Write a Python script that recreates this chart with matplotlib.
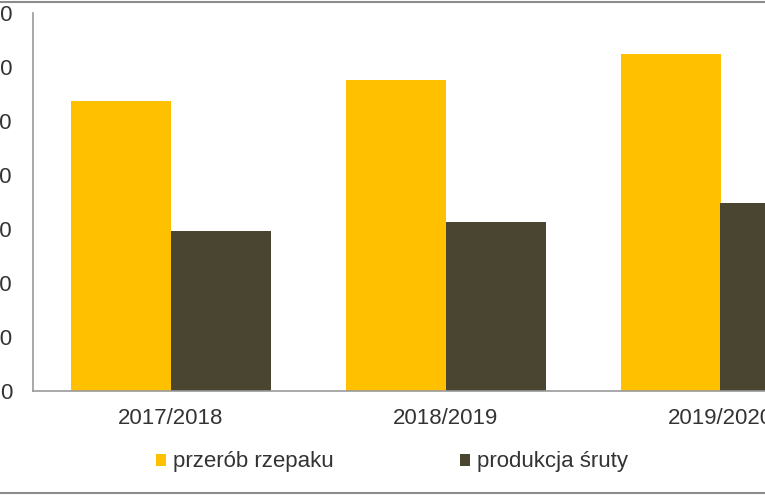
import matplotlib
matplotlib.use("Agg")
import matplotlib.pyplot as plt
from matplotlib.patches import Patch
from matplotlib.lines import Line2D
import numpy as np

categories = ["2017/2018", "2018/2019", "2019/2020"]
przerob = [2685, 2880, 3120]
sruta = [1480, 1565, 1740]
yticks = [0, 500, 1000, 1500, 2000, 2500, 3000, 3500]
series_names = ["przerób rzepaku", "produkcja śruty"]

YELLOW = "#FFC000"
DARK = "#4A4530"
TEXT = "#333333"
GREY = "#999999"

plt.rcParams['font.family'] = ['Liberation Sans', 'DejaVu Sans']

W, H = 765, 496
fig = plt.figure(figsize=(W / 100, H / 100), dpi=100)
ax = fig.add_axes([33 / W, (H - 391) / H, 825 / W, 378 / H])

x = np.arange(len(categories))
bw = 100 / 275
ax.bar(x - bw / 2, przerob, width=bw, color=YELLOW, label=series_names[0])
ax.bar(x + bw / 2, sruta, width=bw, color=DARK, label=series_names[1])

ax.set_xlim(-0.5, len(categories) - 0.5)
ax.set_ylim(0, 3500)
ax.set_yticks(yticks)
ax.set_yticklabels([str(v) for v in yticks])
ax.set_xticks(x)
ax.set_xticklabels(categories)
ax.tick_params(axis='y', length=0, pad=15, labelsize=16, colors=TEXT)
ax.tick_params(axis='x', length=0, pad=12, labelsize=16, colors=TEXT)
for s in ['top', 'right']:
    ax.spines[s].set_visible(False)
for s in ['left', 'bottom']:
    ax.spines[s].set_color(GREY)
    ax.spines[s].set_linewidth(1.2)

handles = [Patch(facecolor=YELLOW, edgecolor='none'), Patch(facecolor=DARK, edgecolor='none')]
fig.legend(handles, series_names, loc='center left', bbox_to_anchor=(156 / W, 1 - 462 / H),
           ncol=2, frameon=False, fontsize=16, handlelength=0.45, handleheight=0.45,
           handletextpad=0.3, columnspacing=5.7, borderpad=0, borderaxespad=0,
           labelcolor=TEXT)

fig.add_artist(Line2D([0, 1], [1 - 1.5 / H, 1 - 1.5 / H], transform=fig.transFigure, color="#8c8c8c", lw=1.5))
fig.add_artist(Line2D([0, 1], [1 - 493 / H, 1 - 493 / H], transform=fig.transFigure, color="#8c8c8c", lw=1.5))

fig.savefig("out.png", dpi=100)
